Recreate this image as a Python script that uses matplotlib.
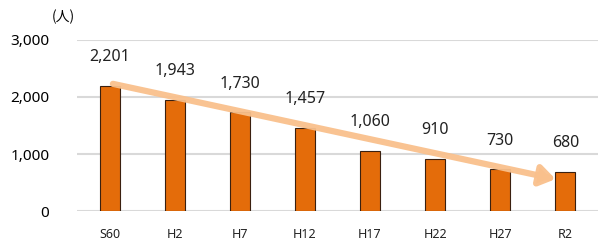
import matplotlib.pyplot as plt

plt.rcParams['font.family'] = ['Noto Sans CJK JP', 'DejaVu Sans']

years = ['S60', 'H2', 'H7', 'H12', 'H17', 'H22', 'H27', 'R2']
people = [2201, 1943, 1730, 1457, 1060, 910, 730, 680]
yticks = [0, 1000, 2000, 3000]

fig = plt.figure(figsize=(6.07, 2.48), dpi=100)
ax = fig.add_axes([0.127, 0.149, 0.858, 0.69])

x = list(range(len(years)))
ax.bar(x, people, width=0.31, color='#E46C0A', edgecolor='#3a2010', linewidth=0.8, zorder=3)

for xi, v in zip(x, people):
    ax.annotate(f'{v:,}', (xi, v), xytext=(0, 15), textcoords='offset points',
                ha='center', va='bottom', fontsize=11.5, color='#222222', family='Noto Sans')

# trend arrow
ax.annotate('', xy=(6.85, 560), xytext=(0.05, 2230),
            arrowprops=dict(arrowstyle='-|>,head_length=0.9,head_width=0.6', lw=4.5,
                            color='#F9C08C', alpha=0.95, shrinkA=0, shrinkB=0), zorder=4)

ax.set_xlim(-0.5, 7.5)
ax.set_ylim(0, 3000)
ax.set_yticks(yticks)
ax.set_yticklabels([f'{t:,}' for t in yticks], fontsize=11, family='Noto Sans')
ax.set_xticks(x)
ax.set_xticklabels(years, fontsize=9, family='Noto Sans', color='#222222')
ax.tick_params(axis='y', length=0, pad=20)
ax.tick_params(axis='x', length=0, pad=12)
ax.grid(axis='y', color='#D9D9D9', lw=1.5, zorder=0)
for s in ax.spines.values():
    s.set_visible(False)

fig.text(0.085, 0.93, '(人)', fontsize=10, ha='left', va='center')

fig.savefig('out.png', dpi=100)
